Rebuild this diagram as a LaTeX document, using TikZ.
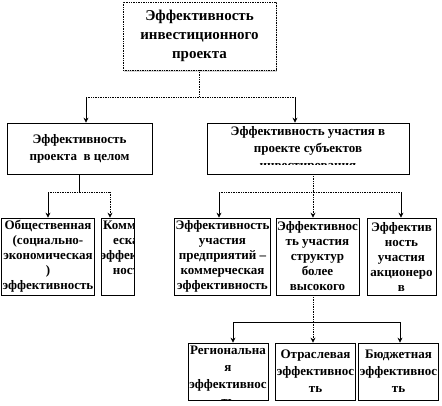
\documentclass[tikz,border=0pt]{standalone}
\usepackage{fontspec}
\setmainfont{Liberation Serif}
\usetikzlibrary{arrows.meta, shadows}

\newcommand{\schrift}{\bfseries\fontsize{13}{15}\selectfont}
\newcommand{\schriftweit}{\bfseries\fontsize{13}{17}\selectfont}

\tikzset{
  kasten/.style={draw, line width=0.7pt, fill=white, inner sep=1pt, align=center, font=\schrift},
  kopf/.style={kasten, densely dotted, font=\bfseries\fontsize{15}{19}\selectfont,
               drop shadow={shadow xshift=1pt, shadow yshift=-2pt, fill=gray!60}},
  % Text, der vom Rahmen abgeschnitten wird: xshift, Rand unten, Text
  clipbox/.style n args={3}{path picture={
      \clip ([yshift=#2]path picture bounding box.south west) rectangle (path picture bounding box.north east);
      \node[anchor=north, draw=none, fill=none, inner sep=0pt, minimum width=0pt, minimum height=0pt,
            align=center, solid] at ([xshift=#1, yshift=-3pt]path picture bounding box.north) {#3};}},
  punkt/.style={densely dotted},
  arr/.style={-{Stealth[length=5pt, width=5pt]}}
}

\begin{document}
\begin{tikzpicture}[x=1pt, y=-1pt, line width=0.7pt]
        \useasboundingbox (0,0) rectangle (442,405);

        % Oberster Kasten
        \node[kopf, minimum width=153pt, minimum height=68pt] (proj) at (199.5,36) {Эффективность\\инвестиционного\\проекта};

        % Zweite Ebene
        \node[kasten, font=\schriftweit, minimum width=145pt, minimum height=51pt] (ganz) at (79.5,148.5) {Эффективность\\проекта~ в целом};
        \node[kasten, font=\schriftweit, minimum width=202pt, minimum height=51pt,
              clipbox={0pt}{10pt}{Эффективность участия в\\проекте субъектов\\инвестирования}] (teiln) at (308,148.5) {};

        % Dritte Ebene
        \node[kasten, minimum width=90pt, minimum height=77pt] (obsh) at (48,256.5) {Общественная\\(социально-\\экономическая\\)\\эффективность};
        \node[kasten, minimum width=33pt, minimum height=77pt,
              clipbox={12pt}{0pt}{Коммерч\\еская\\эффектив\\ность}] (komm) at (117.5,256.5) {};
        \node[kasten, minimum width=91pt, minimum height=77pt] (predpr) at (222.5,256.5) {Эффективность\\участия\\предприятий –\\коммерческая\\эффективность};
        \node[kasten, minimum width=83pt, minimum height=77pt] (strukt) at (317.5,256.5) {Эффективнос\\ть участия\\структур\\более\\высокого};
        \node[kasten, minimum width=69pt, minimum height=77pt] (akc) at (401.5,256.5) {Эффектив\\ность\\участия\\акционеро\\в};

        % Unterste Ebene
        \node[kasten, font=\schriftweit, minimum width=80pt, minimum height=57pt,
              clipbox={0pt}{0pt}{Региональна\\я\\эффективнос\\ть}] (reg) at (228,371.5) {};
        \node[kasten, font=\schriftweit, minimum width=79pt, minimum height=57pt] (otr) at (315.5,371.5) {Отраслевая\\эффективнос\\ть};
        \node[kasten, font=\schriftweit, minimum width=77pt, minimum height=57pt] (budzh) at (398.5,371.5) {Бюджетная\\эффективнос\\ть};

        % Verbindungen oben
        \coordinate (j0) at (199.5,97);
        \coordinate (j0l) at (86,97);
        \coordinate (j0r) at (295,97);
        \draw[punkt] (proj.south) -- (j0);
        \draw[punkt] (j0l) -- (j0r);
        \draw[arr] (j0l) -- (j0l |- ganz.north);
        \draw[arr] (j0r) -- (j0r |- teiln.north);

        % Verbindungen links
        \coordinate (j1l) at (48,192);
        \coordinate (j1r) at (110,192);
        \draw (ganz.south) -- (ganz.south |- j1l);
        \draw[punkt] (j1l) -- (j1r);
        \draw[arr] (j1l) -- (j1l |- obsh.north);
        \draw[arr, punkt] (j1r) -- (j1r |- komm.north);

        % Verbindungen rechts
        \coordinate (j2) at (313,192);
        \coordinate (j2l) at (219,192);
        \coordinate (j2r) at (401,192);
        \draw[punkt] (j2 |- teiln.south) -- (j2);
        \draw[punkt] (j2l) -- (j2r);
        \draw[arr] (j2l) -- (j2l |- predpr.north);
        \draw[arr, punkt] (j2) -- (j2 |- strukt.north);
        \draw[arr] (j2r) -- (j2r |- akc.north);

        % Verbindungen unten
        \coordinate (j3) at (313,322);
        \coordinate (j3l) at (233,322);
        \coordinate (j3r) at (400,322);
        \draw[punkt] (j3 |- strukt.south) -- (j3);
        \draw (j3l) -- (j3r);
        \draw[arr] (j3l) -- (j3l |- reg.north);
        \draw[arr, punkt] (j3) -- (j3 |- otr.north);
        \draw[arr] (j3r) -- (j3r |- budzh.north);
    \end{tikzpicture}
\end{document}
